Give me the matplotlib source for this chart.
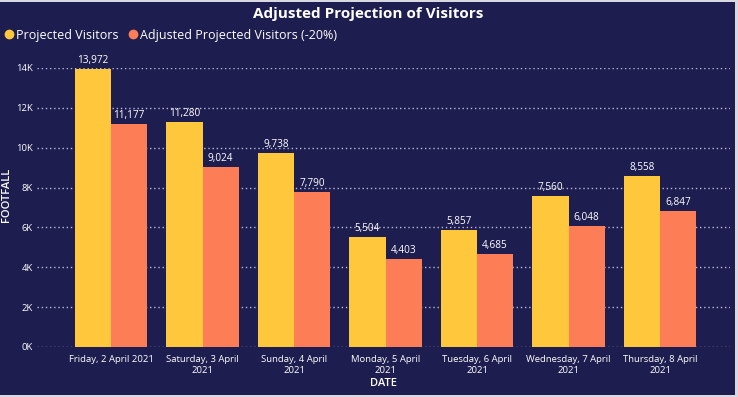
import matplotlib
matplotlib.use("Agg")
import matplotlib.pyplot as plt
from matplotlib.patches import Rectangle
from matplotlib.lines import Line2D
import numpy as np

plt.rcParams['font.family'] = ['Open Sans', 'DejaVu Sans']

dates = ["Friday, 2 April 2021", "Saturday, 3 April\n2021", "Sunday, 4 April\n2021",
         "Monday, 5 April\n2021", "Tuesday, 6 April\n2021", "Wednesday, 7 April\n2021",
         "Thursday, 8 April\n2021"]
projected = [13972, 11280, 9738, 5504, 5857, 7560, 8558]
adjusted = [11177, 9024, 7790, 4403, 4685, 6048, 6847]
yticks = [0, 2000, 4000, 6000, 8000, 10000, 12000, 14000]
ytick_labels = ["0K", "2K", "4K", "6K", "8K", "10K", "12K", "14K"]

BG = "#1e1d4f"
YEL = "#fec73c"
ORG = "#fd7d56"
W, H = 738, 397

fig = plt.figure(figsize=(W / 100, H / 100), dpi=100, facecolor=BG)
ax = fig.add_axes([37 / W, (H - 347) / H, (730 - 37) / W, (347 - 68) / H])
ax.set_facecolor(BG)

x = np.arange(len(dates))
bw = 0.395
ax.bar(x - bw / 2, projected, width=bw, color=YEL, zorder=3)
ax.bar(x + bw / 2, adjusted, width=bw, color=ORG, zorder=3)

for xi, v in zip(x - bw / 2, projected):
    ax.text(xi, v + 150, f"{v:,}", ha="center", va="bottom", color="white", fontsize=7.2, clip_on=False)
for xi, v in zip(x + bw / 2, adjusted):
    ax.text(xi, v + 150, f"{v:,}", ha="center", va="bottom", color="white", fontsize=7.2, clip_on=False)

ax.set_xlim(-0.809, 6.765)
ax.set_ylim(0, 14000)
ax.set_yticks(yticks)
ax.set_yticklabels(ytick_labels)
ax.set_xticks(x)
ax.set_xticklabels(dates)
ax.tick_params(axis="both", colors="white", labelsize=6.8, length=0)
ax.tick_params(axis="y", pad=3)
ax.tick_params(axis="x", pad=6)
ax.grid(axis="y", color="#b8b8d8", linestyle=(0, (1, 2)), linewidth=1, zorder=0)
for s in ax.spines.values():
    s.set_visible(False)

ax.set_xlabel("DATE", color="white", fontsize=8, fontweight="semibold", labelpad=2)
ax.set_ylabel("FOOTFALL", color="white", fontsize=8, fontweight="semibold")
ax.yaxis.set_label_coords((12 - 37) / (730 - 37), (347 - 195) / (347 - 68))

fig.text(368 / W, 1 - 14 / H, "Adjusted Projection of Visitors", ha="center", va="center",
         color="white", fontsize=11, fontweight="bold")

handles = [Line2D([], [], marker="o", linestyle="", color=YEL, markersize=6),
           Line2D([], [], marker="o", linestyle="", color=ORG, markersize=6)]
leg = fig.legend(handles, ["Projected Visitors", "Adjusted Projected Visitors (-20%)"],
                 loc="center left", bbox_to_anchor=(0 / W, 1 - 35 / H), ncol=2, frameon=False,
                 fontsize=9, handletextpad=0.1, columnspacing=0.6, handlelength=1, borderaxespad=0,
                 borderpad=0.2)
for t in leg.get_texts():
    t.set_color("white")

# light frame along top, right and bottom edges
fig.patches.append(Rectangle((0, 1 - 2 / H), 1, 2 / H, transform=fig.transFigure,
                             facecolor="#d8d8e0", edgecolor="none"))
fig.patches.append(Rectangle((1 - 3 / W, 0), 3 / W, 1, transform=fig.transFigure,
                             facecolor="#d8d8e0", edgecolor="none"))
fig.patches.append(Rectangle((0, 0), 1, 2 / H, transform=fig.transFigure,
                             facecolor="#d8d8e0", edgecolor="none"))

fig.savefig("out.png", dpi=100, facecolor=BG)
